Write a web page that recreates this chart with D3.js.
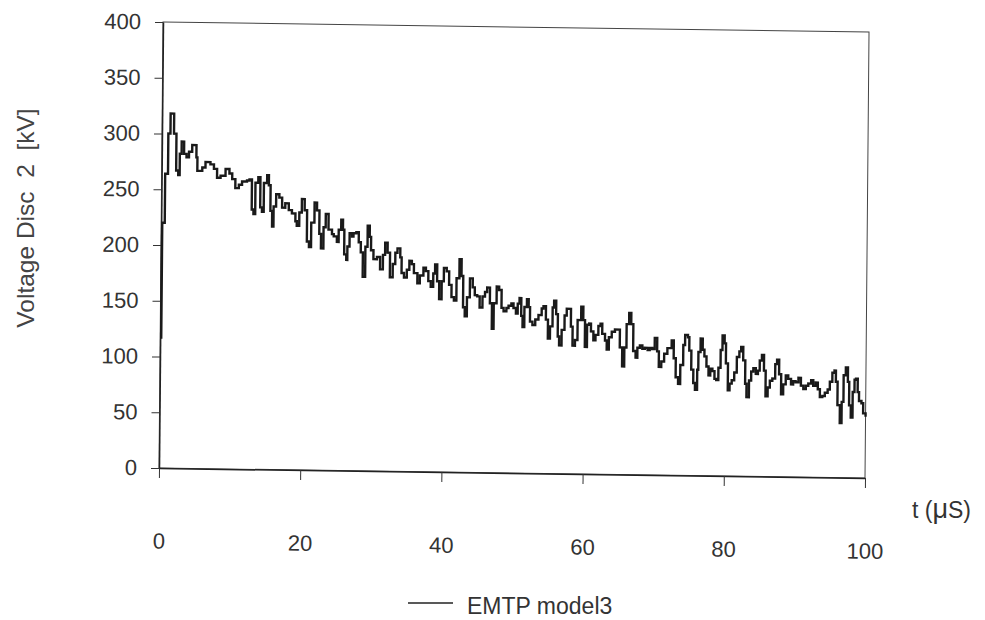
<!DOCTYPE html>
<html>
<head>
<meta charset="utf-8">
<script src="https://cdn.jsdelivr.net/npm/d3@7"></script>
<style>
  body { margin: 0; background: #fff; }
  svg { display: block; font-family: "Liberation Sans", Arial, sans-serif; }
  .axis text { fill: #333; font-size: 22px; }
  .axis line { stroke: #333; stroke-width: 1; }
  .axis path { stroke: #222; stroke-width: 1.5; }
</style>
</head>
<body>
<svg width="985" height="620"></svg>
<script>
// step change points: time in µs, voltage in kV
const times = [
  0, 0.15, 0.5, 0.9, 1.2, 1.7, 2.05, 2.35, 2.55, 2.8, 3.15, 3.5, 3.85, 4.3, 4.9, 5.05,
  5.75, 6.2, 6.9, 7.4, 7.85, 8.35, 9.05, 9.6, 10.0, 10.45, 10.95, 11.4, 12.1, 12.45,
  12.8, 13.05, 13.3, 13.7, 14.0, 14.25, 14.5, 14.95, 15.2, 15.45, 15.7, 15.9, 16.25,
  16.7, 17.1, 17.55, 18.05, 18.5, 19.0, 19.2, 19.55, 19.9, 20.3, 20.65, 20.95, 21.25,
  21.7, 22.05, 22.4, 22.65, 23.0, 23.3, 23.7, 24.2,
  24.45, 24.9, 25.15, 25.5, 25.75, 25.95, 26.25, 26.4, 26.7, 27.05, 27.25, 27.65, 28.0,
  28.3, 28.6, 28.95, 29.25, 29.55, 29.75, 30.1, 30.6, 31.05, 31.45, 31.75, 32.1, 32.45,
  32.85, 33.2, 33.5, 33.9, 34.1, 34.45, 34.85, 35.2, 35.55, 35.85, 36.35, 36.7, 37.2,
  37.55, 37.9, 38.25, 38.6, 38.85, 39.15, 39.45, 39.8, 40.1, 40.5, 40.85, 41.2, 41.55,
  41.9, 42.3, 42.6, 42.85, 43.1, 43.4, 43.8, 44.2, 44.5, 44.85, 45.2, 45.6, 45.95, 46.25,
  46.65, 46.95, 47.2, 47.6, 47.95, 48.3, 48.6, 49.0,
  49.3, 49.7, 50.0, 50.35, 50.6, 50.85, 51.1, 51.3, 51.55, 51.9, 52.15, 52.35, 52.7,
  53.1, 53.55, 54.0, 54.25, 54.6, 54.9, 55.2, 55.55, 55.75, 56.05, 56.3, 56.5, 56.85,
  57.25, 57.55, 58.15, 58.4, 58.75, 59.1, 59.6, 59.9, 60.15, 60.45, 60.75, 61.0, 61.35,
  61.65, 62.05, 62.35, 62.6, 63.0, 63.25, 63.55, 63.95, 64.4, 65.1, 65.45, 65.75, 66.05,
  66.4, 66.7, 67.0, 67.35, 67.6, 67.95, 68.3, 68.65, 69.05, 69.35, 69.7, 70.05, 70.4,
  70.65, 71.0, 71.4, 71.85, 72.45, 72.75, 73.05, 73.4, 73.7, 74.1, 74.35,
  74.75, 74.95, 75.25, 75.55, 75.8, 76.1, 76.25, 76.55, 76.85, 77.1, 77.4, 77.7, 77.95,
  78.25, 78.55, 78.8, 79.1, 79.4, 79.65, 79.95, 80.15, 80.45, 80.7, 81.0, 81.35, 81.7,
  82.05, 82.3, 82.6, 82.9, 83.1, 83.45, 83.75, 84.05, 84.4, 84.7, 84.95, 85.25, 85.55,
  85.8, 86.1, 86.4, 86.75, 87.15, 87.4, 87.7, 88.0, 88.3, 88.65, 89.0, 89.4, 89.7, 90.05,
  90.45, 90.8, 91.15, 91.5, 91.85, 92.25, 92.55, 92.9, 93.2, 93.5, 93.85, 94.2, 94.6,
  94.9, 95.25, 95.55, 95.75, 96.0, 96.35, 96.6, 96.85, 97.15, 97.45, 97.65, 97.9, 98.15,
  98.4, 98.6, 98.85, 99.05, 99.4, 99.65, 100
]
const volts = [
  117, 220, 264, 300, 318, 300, 267, 263, 282, 293, 282, 279, 284, 290, 279, 267,
  270, 275, 273, 269, 261, 263, 269, 265, 260, 252, 255, 258, 259, 260,
  233, 229, 257, 262, 235, 231, 257, 264, 255, 232, 218, 236, 247,
  244, 235, 239, 233, 230, 223, 219, 231, 243, 233, 205, 200, 222,
  240, 233, 212, 199, 218, 230, 216, 212,
  210, 205, 216, 225, 216, 194, 189, 201, 213, 210, 213, 214, 205,
  196, 174, 201, 220, 210, 198, 190, 192, 181, 194, 205, 196, 174,
  186, 196, 200, 192, 178, 174, 181, 189, 186, 178, 169, 176, 183,
  180, 171, 166, 178, 186, 171, 155, 171, 183, 180, 168, 157, 154,
  174, 191, 176, 148, 140, 157, 174, 166, 159, 158, 148, 158, 162, 166,
  152, 129, 152, 167, 164, 148, 145, 148,
  150, 152, 148, 143, 152, 157, 141, 131, 149, 156, 149, 136, 133,
  138, 142, 148, 150, 138, 121, 132, 149, 155, 143, 123, 115, 129,
  142, 148, 132, 115, 120, 138, 150, 138, 114, 134, 135, 128, 120,
  125, 133, 135, 126, 120, 112, 123, 128, 130, 114, 97, 114, 135,
  145, 135, 111, 105, 114, 116, 113, 114, 112, 114, 113, 123, 111,
  97, 102, 109, 114, 121, 105, 88, 82, 99, 117, 126,
  124, 112, 95, 83, 77, 95, 111, 123, 113, 107, 98, 90, 96,
  94, 87, 86, 97, 113, 126, 119, 101, 77, 83, 86, 93, 107,
  112, 116, 104, 83, 71, 86, 94, 97, 92, 95, 104, 109, 95,
  72, 80, 86, 88, 101, 105, 92, 74, 83, 91, 88, 83, 86, 85,
  89, 82, 79, 82, 84, 87, 82, 85, 79, 72, 73, 76, 79,
  86, 94, 96, 86, 65, 49, 68, 92, 99, 86, 65, 54, 77,
  88, 89, 77, 69, 67, 58, 55
]
const xTicks = [0, 20, 40, 60, 80, 100]
const yTicks = [0, 50, 100, 150, 200, 250, 300, 350, 400]
const seriesName = "EMTP model3"

const data = times.map((t, i) => ({ t: t, v: volts[i] }))

const svg = d3.select("svg")

svg.append("rect")
  .attr("width", 985)
  .attr("height", 620)
  .attr("fill", "#fff")

// plot box
const plotLeft = 159, plotRight = 865, plotTop = 22, plotBottom = 468

const x = d3.scaleLinear().domain([0, 100]).range([plotLeft, plotRight])
const y = d3.scaleLinear().domain([0, 400]).range([plotBottom, plotTop])

// the scanned page is slightly skewed, keep the corner at (0,0) fixed
const kx = -0.009, ky = 0.0142
const chart = svg.append("g")
  .attr("transform", `matrix(1, ${ky}, ${kx}, 1, ${-kx * plotBottom}, ${-ky * plotLeft})`)

// frame (top and right are thinner)
chart.append("rect")
  .attr("x", plotLeft)
  .attr("y", plotTop)
  .attr("width", plotRight - plotLeft)
  .attr("height", plotBottom - plotTop)
  .attr("fill", "none")
  .attr("stroke", "#444")
  .attr("stroke-width", 1)

const axisX = d3.axisBottom(x)
  .tickValues(xTicks)
  .tickSizeInner(10)
  .tickSizeOuter(0)
  .tickPadding(55)
  .tickFormat(d3.format("d"))

const axisY = d3.axisLeft(y)
  .tickValues(yTicks)
  .tickSizeInner(8)
  .tickSizeOuter(0)
  .tickPadding(14)
  .tickFormat(d3.format("d"))

chart.append("g")
  .attr("class", "axis x-axis")
  .attr("transform", `translate(0,${plotBottom})`)
  .call(axisX)

chart.append("g")
  .attr("class", "axis y-axis")
  .attr("transform", `translate(${plotLeft},0)`)
  .call(axisY)

svg.selectAll(".axis .domain").attr("stroke", "#222")

// the voltage trace
const line = d3.line()
  .x(d => x(d.t))
  .y(d => y(d.v))
  .curve(d3.curveStepAfter)

chart.append("path")
  .datum(data)
  .attr("fill", "none")
  .attr("stroke", "#1a1a1a")
  .attr("stroke-width", 2.4)
  .attr("stroke-linejoin", "miter")
  .attr("d", line)

// axis titles
svg.append("text")
  .attr("transform", "translate(25,218) rotate(-90)")
  .attr("text-anchor", "middle")
  .attr("dy", "0.35em")
  .attr("fill", "#444")
  .style("font-size", "24.5px")
  .style("white-space", "pre")
  .text("Voltage Disc  2  [kV]")

const tLabel = svg.append("text")
  .attr("x", 912)
  .attr("y", 518)
  .attr("fill", "#333")
  .style("font-size", "23px")
tLabel.append("tspan").text("t (")
tLabel.append("tspan").style("font-size", "27px").text("μ")
tLabel.append("tspan").text("S)")

// legend
svg.append("line")
  .attr("x1", 408)
  .attr("x2", 453)
  .attr("y1", 603)
  .attr("y2", 603)
  .attr("stroke", "#222")
  .attr("stroke-width", 1.5)

svg.append("text")
  .attr("x", 467)
  .attr("y", 614)
  .attr("fill", "#333")
  .style("font-size", "23px")
  .text(seriesName)
</script>
</body>
</html>
